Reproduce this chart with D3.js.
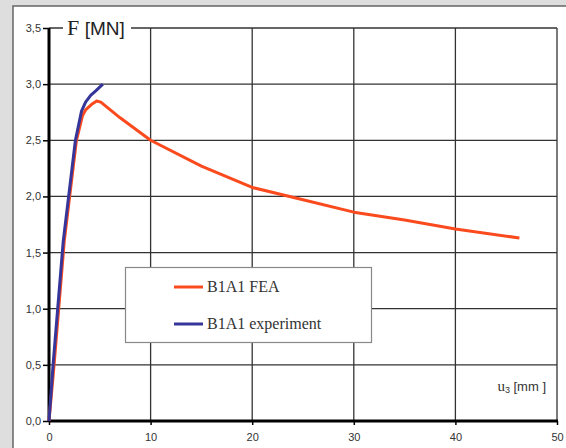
<!DOCTYPE html>
<html><head><meta charset="utf-8">
<script src="https://cdn.jsdelivr.net/npm/d3@7"></script>
<style>body{margin:0;background:#fff}svg{display:block}</style>
</head><body>
<svg id="c" width="566" height="448"></svg>
<script>
const xTicks = [0,10,20,30,40,50];
const yTicks = [0,0.5,1.0,1.5,2.0,2.5,3.0,3.5];
const feaU = [0,0.5,1.5,2.7,3.3,3.6,4.2,4.7,5.1,7,10,15,20,25,30,35,40,46.3];
const feaF = [0,0.5,1.6,2.5,2.72,2.77,2.82,2.85,2.84,2.7,2.5,2.27,2.08,1.97,1.86,1.79,1.71,1.63];
const expU = [0,0.4,1.4,2.6,3.2,3.6,4.1,4.6,5.3];
const expF = [0,0.5,1.6,2.5,2.76,2.84,2.9,2.94,3.0];
const seriesNames = ["B1A1 FEA","B1A1 experiment"];
const seriesColors = ["#fa4a1e","#35359a"];

const svg = d3.select("#c");
svg.append("rect").attr("x",0).attr("y",0).attr("width",566).attr("height",448).attr("fill","#dedede");
svg.append("rect").attr("x",13).attr("y",6).attr("width",560).attr("height",450).attr("fill","#fff").attr("stroke","#666").attr("stroke-width",1.5);

const x = d3.scaleLinear().domain([0,50]).range([49,557]);
const y = d3.scaleLinear().domain([0,3.5]).range([421,28]);

svg.append("g").selectAll("line").data(xTicks.slice(1)).join("line")
  .attr("x1",d=>x(d)).attr("x2",d=>x(d)).attr("y1",y(3.5)).attr("y2",y(0))
  .attr("stroke","#333").attr("stroke-width",1.3);
svg.append("g").selectAll("line").data(yTicks.slice(1)).join("line")
  .attr("x1",x(0)).attr("x2",x(50)).attr("y1",d=>y(d)).attr("y2",d=>y(d))
  .attr("stroke","#333").attr("stroke-width",1.3);

const xAxis = d3.axisBottom(x).tickValues(xTicks).tickSize(4).tickFormat(d3.format("d"));
const yAxis = d3.axisLeft(y).tickValues(yTicks).tickSize(6).tickFormat(d=>d.toFixed(1).replace(".",","));
const gx = svg.append("g").attr("transform",`translate(0,${y(0)})`).call(xAxis);
const gy = svg.append("g").attr("transform",`translate(${x(0)},0)`).call(yAxis);
[gx,gy].forEach(g=>{
  g.select(".domain").remove();
  g.selectAll(".tick line").attr("stroke","#000").attr("stroke-width",1.5);
  g.selectAll(".tick text").attr("fill","#333").style("font-family","Liberation Sans, Arial, sans-serif").style("font-size","11px");
});
gx.selectAll(".tick text").attr("dy","1.2em");
gy.selectAll(".tick text").attr("x",-8).attr("dy","0.32em");
svg.append("line").attr("x1",x(0)).attr("x2",x(50)+1).attr("y1",y(0)).attr("y2",y(0)).attr("stroke","#000").attr("stroke-width",3);
svg.append("line").attr("x1",x(0)).attr("x2",x(0)).attr("y1",y(3.5)).attr("y2",y(0)+1).attr("stroke","#000").attr("stroke-width",3);

svg.append("rect").attr("x",63).attr("y",y(3.5)-10).attr("width",68).attr("height",20).attr("fill","#fff");
const t = svg.append("text").attr("x",67).attr("y",y(3.5)+7).attr("fill","#222");
t.append("tspan").style("font-family","Liberation Serif, serif").style("font-size","22px").text("F ");
t.append("tspan").style("font-family","Liberation Sans, Arial, sans-serif").style("font-size","19px").text("[MN]");

const xl = svg.append("text").attr("x",546).attr("y",391).attr("text-anchor","end").attr("fill","#333")
  .style("font-family","Liberation Sans, Arial, sans-serif").style("font-size","13px");
xl.append("tspan").style("font-family","Liberation Serif, serif").style("font-size","15px").text("u");
xl.append("tspan").attr("dy",2).style("font-size","9px").text("3");
xl.append("tspan").attr("dy",-2).text(" [mm ]");

const line = d3.line().x(d=>x(d[0])).y(d=>y(d[1])).curve(d3.curveLinear);
const fea = feaU.map((u,i)=>[u,feaF[i]]);
const exp = expU.map((u,i)=>[u,expF[i]]);
svg.append("path").datum(fea).attr("d",line).attr("fill","none").attr("stroke",seriesColors[0]).attr("stroke-width",3).attr("stroke-linejoin","round");
svg.append("path").datum(exp).attr("d",line).attr("fill","none").attr("stroke",seriesColors[1]).attr("stroke-width",3).attr("stroke-linejoin","round");

svg.append("rect").attr("x",125.5).attr("y",267.5).attr("width",246).attr("height",75).attr("fill","#fff").attr("stroke","#888").attr("stroke-width",1.2);
const ly = [287,324];
seriesNames.forEach((n,i)=>{
  svg.append("line").attr("x1",174).attr("x2",203).attr("y1",ly[i]).attr("y2",ly[i]).attr("stroke",seriesColors[i]).attr("stroke-width",3);
  svg.append("text").attr("x",207).attr("y",ly[i]+5).attr("fill","#333").style("font-family","Liberation Serif, serif").style("font-size","16px").text(n);
});
</script>
</body></html>
